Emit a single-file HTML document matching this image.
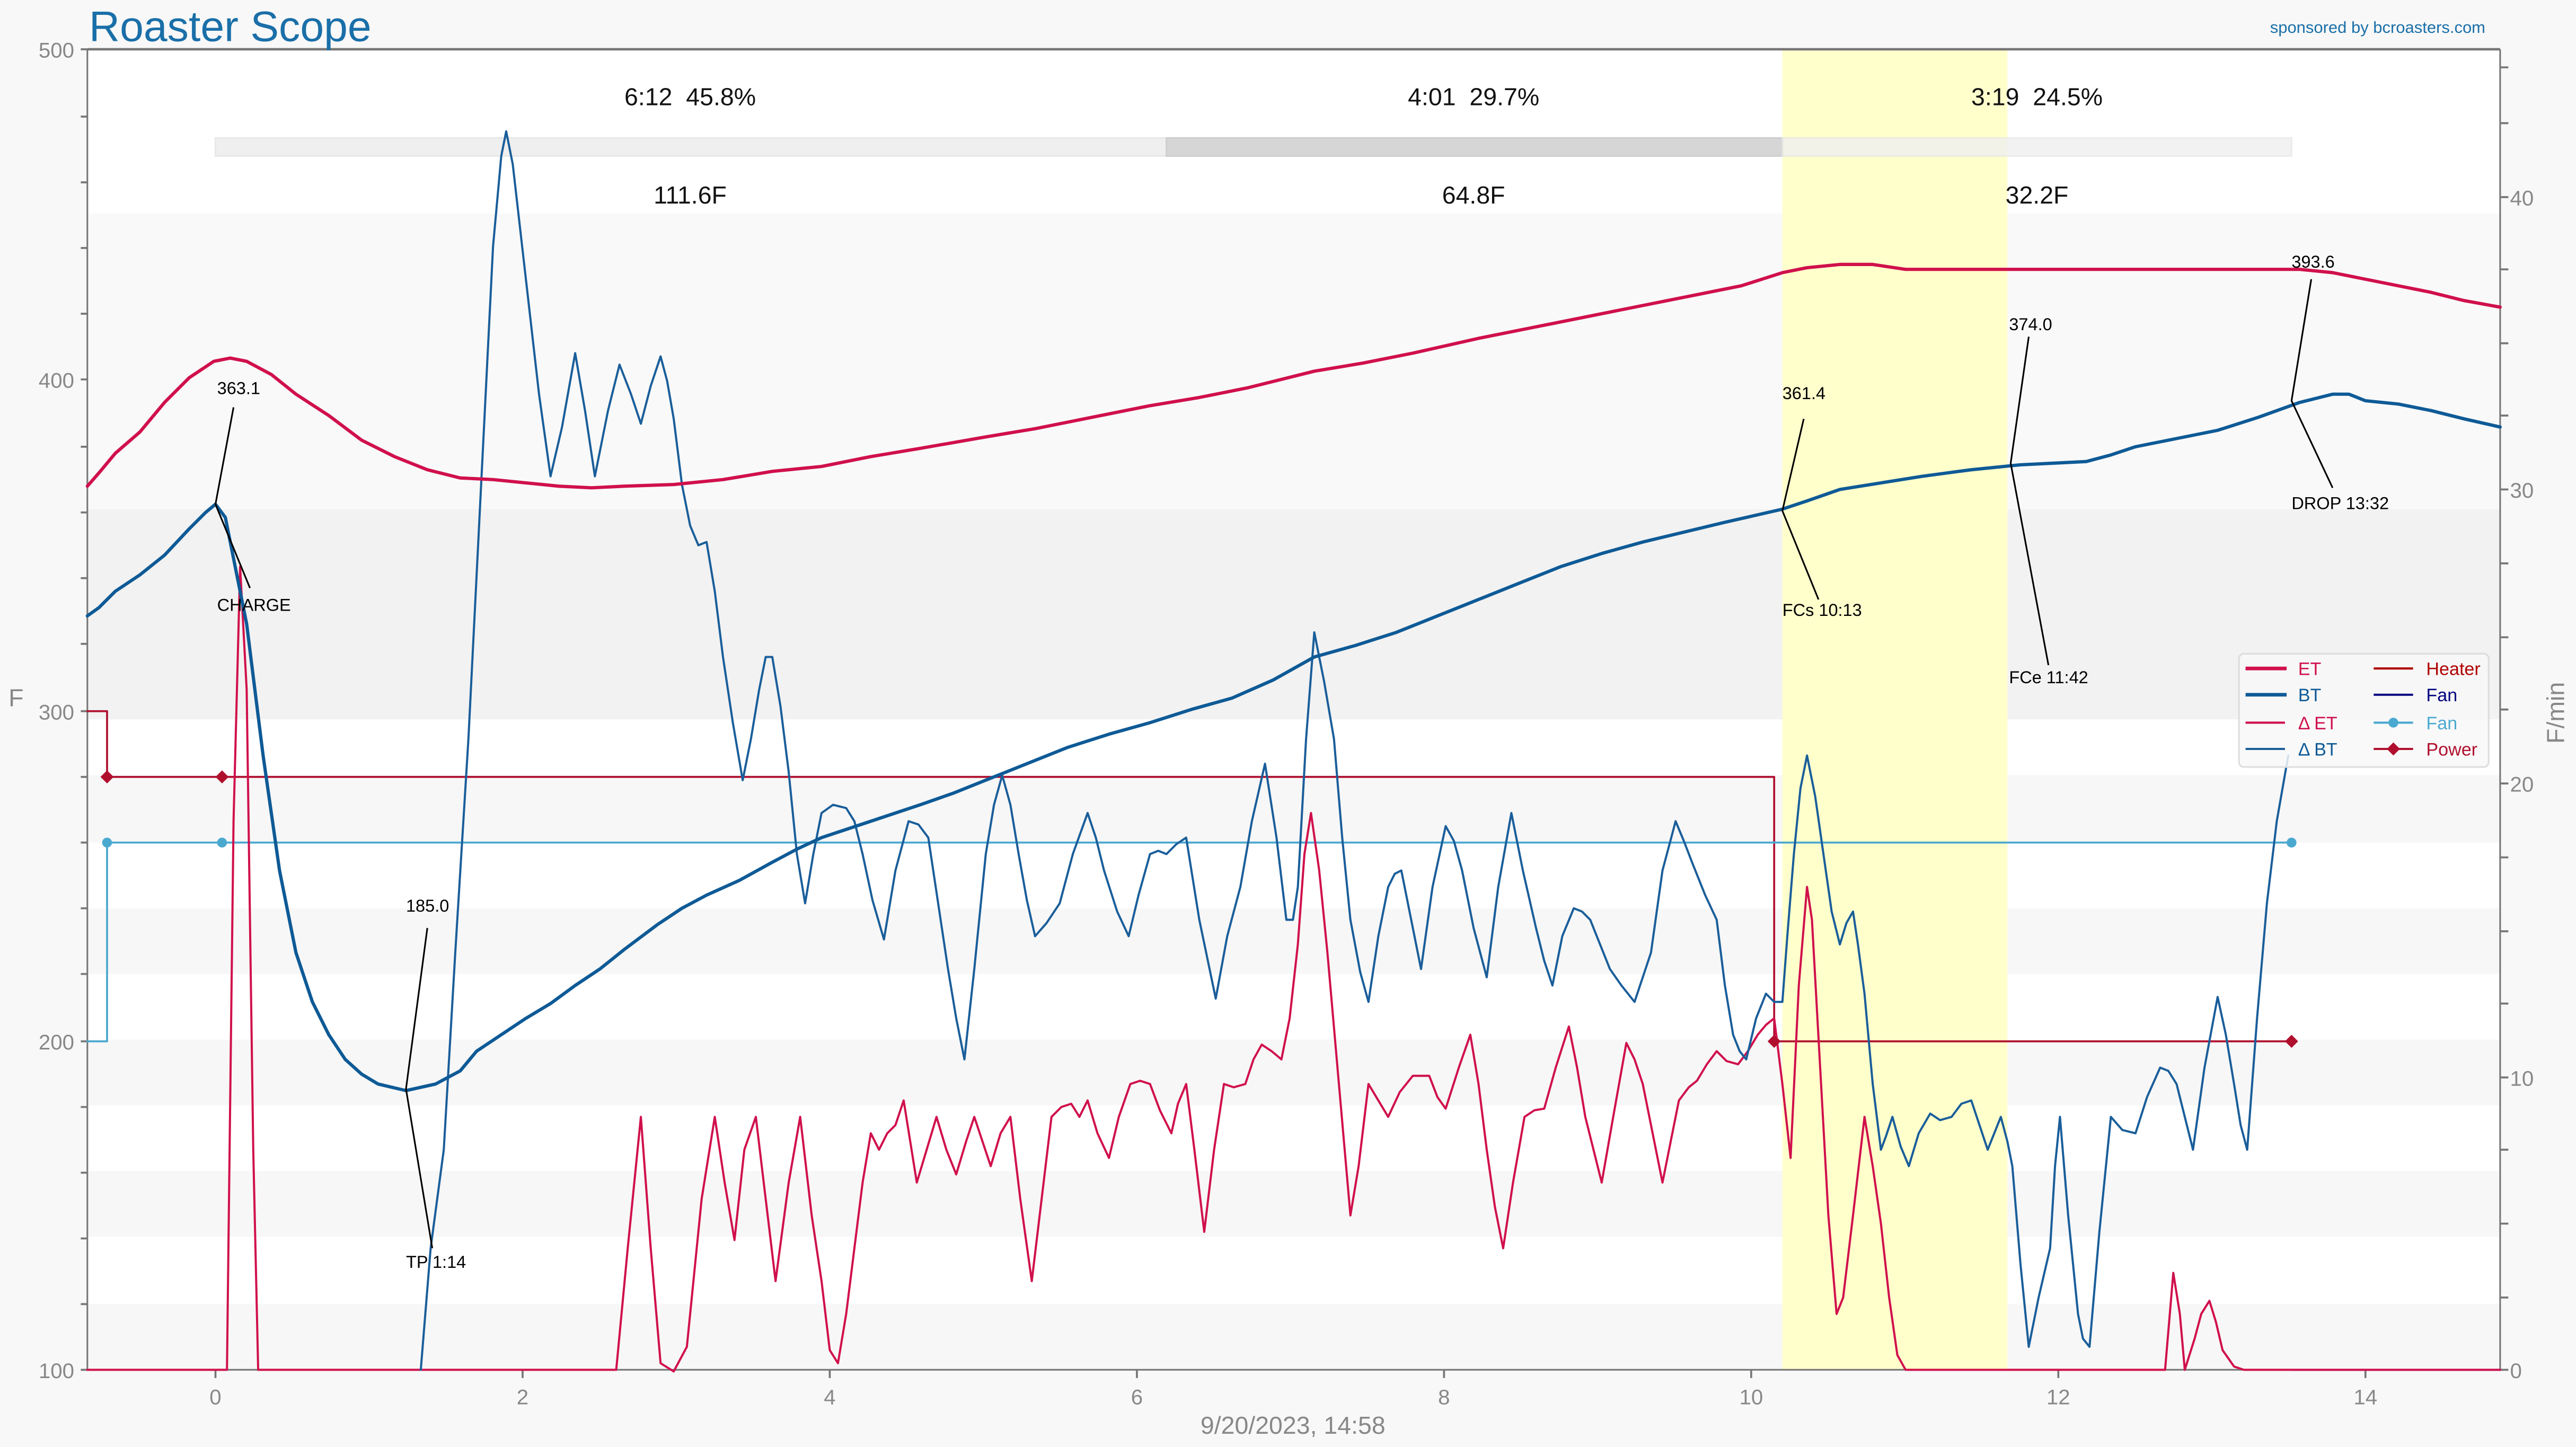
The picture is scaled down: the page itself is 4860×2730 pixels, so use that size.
<!DOCTYPE html>
<html><head><meta charset="utf-8"><style>
html,body{margin:0;padding:0;background:#f8f8f8}
svg{display:block}
text{font-family:"Liberation Sans",sans-serif;white-space:pre}
</style></head><body>
<svg width="4860" height="2730" viewBox="0 0 1568 881" xmlns="http://www.w3.org/2000/svg">
<rect x="0" y="0" width="1568" height="881" fill="#f8f8f8"/>
<rect x="53" y="30" width="1469" height="804" fill="#ffffff"/>
<rect x="53" y="130" width="1469" height="180" fill="#f9f9f9"/>
<rect x="53" y="310" width="1469" height="128" fill="#f2f2f2"/>
<g fill="#f7f7f7">
<rect x="53" y="472" width="1469" height="41"/>
<rect x="53" y="553" width="1469" height="40"/>
<rect x="53" y="633" width="1469" height="40"/>
<rect x="53" y="713" width="1469" height="40"/>
<rect x="53" y="794" width="1469" height="40"/>
</g>
<rect x="1085" y="30" width="137" height="804" fill="#ffffcc"/>
<rect x="131" y="84" width="579" height="11" fill="#efefef" stroke="#e8e8e8"/>
<rect x="710" y="84" width="375" height="11" fill="#d6d6d6" stroke="#cfcfcf"/>
<rect x="1085" y="84" width="310" height="11" fill="#efefef" stroke="#e8e8e8" opacity="0.8"/>
<g font-size="15" fill="#111" text-anchor="middle">
<text x="420" y="64" xml:space="preserve">6:12  45.8%</text>
<text x="897" y="64" xml:space="preserve">4:01  29.7%</text>
<text x="1240" y="64" xml:space="preserve">3:19  24.5%</text>
<text x="420" y="124">111.6F</text>
<text x="897" y="124">64.8F</text>
<text x="1240" y="124">32.2F</text>
</g>
<line x1="53" y1="30" x2="1522" y2="30" stroke="#777" stroke-width="1.5"/>
<line x1="53" y1="30" x2="53" y2="834" stroke="#777" stroke-width="1"/>
<line x1="1522" y1="30" x2="1522" y2="834" stroke="#777" stroke-width="1"/>
<line x1="53" y1="834" x2="1522" y2="834" stroke="#777" stroke-width="1"/>
<g stroke="#777" stroke-width="1.2">
<path d="M49 30h4M49 71h4M49 111h4M49 151h4M49 191h4M49 231h4M49 272h4M49 312h4M49 352h4M49 392h4M49 433h4M49 473h4M49 513h4M49 553h4M49 593h4M49 634h4M49 674h4M49 714h4M49 754h4M49 794h4M49 834h4"/>
<path d="M1522 120h5M1522 209h5M1522 298h5M1522 388h5M1522 477h5M1522 567h5M1522 656h5M1522 745h5M1522 834h5M1522 75h5M1522 164h5M1522 253h5M1522 343h5M1522 432h5M1522 522h5M1522 611h5M1522 700h5M1522 790h5M1522 41h5"/>
<path d="M131 834v5M318 834v5M505 834v5M692 834v5M879 834v5M1066 834v5M1253 834v5M1440 834v5"/>
</g>
<g font-size="13" fill="#888" text-anchor="end">
<text x="45" y="35">500</text><text x="45" y="236">400</text><text x="45" y="438">300</text><text x="45" y="639">200</text><text x="45" y="839">100</text>
</g>
<g font-size="13" fill="#888">
<text x="1528" y="125">40</text><text x="1528" y="303">30</text><text x="1528" y="482">20</text><text x="1528" y="661">10</text><text x="1528" y="839">0</text>
</g>
<g font-size="13" fill="#888" text-anchor="middle">
<text x="131" y="855">0</text><text x="318" y="855">2</text><text x="505" y="855">4</text><text x="692" y="855">6</text><text x="879" y="855">8</text><text x="1066" y="855">10</text><text x="1253" y="855">12</text><text x="1440" y="855">14</text>
<text x="787" y="873" font-size="15">9/20/2023, 14:58</text>
</g>
<text x="5" y="430" font-size="15" fill="#888">F</text>
<text x="1561" y="434" font-size="15" fill="#888" text-anchor="middle" transform="rotate(-90 1561 434)">F/min</text>
<text x="54" y="25" font-size="26" fill="#1a6fa8">Roaster Scope</text>
<text x="1513" y="20" font-size="10" fill="#1a6fa8" text-anchor="end">sponsored by bcroasters.com</text>

<g fill="none" stroke-linejoin="round" stroke-linecap="round">
<polyline stroke="#b0102e" stroke-width="1.2" points="53,433 65,433 65,473 1080,473 1080,634 1395,634"/>
<polyline stroke="#4ba9d0" stroke-width="1.2" points="53,634 65,634 65,513 1395,513"/>
<polyline stroke="#000080" stroke-width="1.2" points="1395,834 1522,834"/>
<polyline stroke="#d0104c" stroke-width="1.3" points="53,834 138,834 142,500 146,345 150,420 154,700 157,834 375,834 382,760 390,680 396,760 402,830 410,835 418,820 427,730 435,680 441,720 447,755 453,700 460,680 466,730 472,780 480,720 487,680 494,740 500,780 505,822 510,830 515,800 520,760 525,720 530,690 535,700 540,690 545,685 550,670 554,695 558,720 564,700 570,680 576,700 582,715 588,695 593,680 598,695 603,710 609,690 615,680 621,730 628,780 634,730 640,680 646,674 652,672 657,680 662,670 668,690 675,705 681,680 688,660 694,658 700,660 706,676 713,690 717,672 722,660 727,700 733,750 739,700 745,660 751,662 758,660 763,645 768,636 774,640 780,645 785,620 790,575 794,520 798,495 803,530 808,580 815,660 822,740 827,710 833,660 839,670 845,680 852,665 860,655 865,655 870,655 875,668 880,675 888,650 895,630 900,660 905,700 910,735 915,760 921,720 928,680 934,676 940,675 947,650 955,625 960,650 965,680 970,700 975,720 982,680 990,635 995,645 1000,660 1006,690 1012,720 1017,695 1022,670 1028,662 1033,658 1039,648 1045,640 1051,646 1058,648 1064,640 1070,630 1075,624 1080,620 1085,660 1090,705 1095,600 1100,540 1103,560 1108,650 1113,740 1118,800 1122,790 1128,740 1135,680 1140,710 1145,745 1150,790 1155,825 1160,834 1318,834 1323,775 1327,800 1330,834 1336,815 1340,800 1345,792 1349,805 1353,822 1360,832 1366,834 1522,834"/>
<polyline stroke="#1a5e9a" stroke-width="1.3" points="256,834 262,760 270,700 277,580 285,450 293,290 300,150 305,95 308,80 312,100 320,170 328,240 335,290 342,260 350,215 356,250 362,290 370,250 377,222 384,240 390,258 396,235 402,217 406,232 410,255 415,295 420,320 425,332 430,330 435,360 440,400 446,440 452,475 457,450 462,420 466,400 470,400 475,430 480,470 485,520 490,550 495,520 500,495 507,490 515,492 520,500 525,520 531,548 538,572 545,530 553,500 559,502 565,510 571,550 577,590 582,620 587,645 593,590 600,520 605,490 610,472 615,490 620,520 625,548 630,570 637,562 645,550 653,520 662,495 667,510 672,530 680,555 687,570 693,545 700,520 705,518 710,520 716,514 722,510 730,560 740,608 747,570 755,540 762,500 770,465 777,510 783,560 787,560 790,540 795,450 800,385 806,415 812,450 817,510 822,560 828,592 833,610 839,570 845,540 849,532 853,530 859,560 865,590 872,540 880,503 885,512 890,530 897,565 905,595 912,540 920,495 927,530 935,565 940,585 945,600 951,570 958,553 963,555 968,560 974,575 980,590 987,600 995,610 1000,595 1005,580 1012,530 1020,500 1025,512 1030,525 1038,545 1045,560 1050,600 1055,630 1059,640 1063,645 1069,620 1075,605 1080,610 1085,610 1088,570 1092,520 1096,480 1100,460 1105,485 1110,520 1115,555 1120,575 1124,562 1128,555 1131,575 1135,605 1140,660 1145,700 1148,692 1152,680 1157,698 1162,710 1168,690 1175,678 1181,682 1188,680 1194,672 1200,670 1205,685 1210,700 1214,690 1218,680 1222,695 1225,710 1230,770 1235,820 1241,790 1248,760 1251,710 1254,680 1259,740 1265,800 1268,815 1272,820 1278,750 1285,680 1292,688 1300,690 1307,668 1315,650 1320,652 1325,660 1330,680 1335,700 1342,650 1350,607 1355,630 1360,660 1364,685 1368,700 1374,620 1380,550 1386,500 1393,460"/>
<polyline stroke="#d0104c" stroke-width="2" points="53,296 60,288 70,276 85,263 100,245 115,230 130,220 140,218 150,220 165,228 180,240 200,253 220,268 240,278 260,286 280,291 300,292 320,294 340,296 360,297 380,296 410,295 440,292 470,287 500,284 530,278 560,273 600,266 630,261 660,255 700,247 730,242 760,236 800,226 830,221 860,215 900,206 930,200 960,194 1000,186 1030,180 1060,174 1085,166 1100,163 1120,161 1140,161 1160,164 1200,164 1300,164 1400,164 1420,166 1450,172 1480,178 1500,183 1522,187"/>
<polyline stroke="#0e5a96" stroke-width="2" points="53,375 60,370 70,360 85,350 100,338 115,322 125,312 131,307 137,315 143,345 150,380 160,460 170,530 180,580 190,610 200,630 210,645 220,654 230,660 247,664 265,660 280,652 290,640 305,630 320,620 335,611 350,600 365,590 380,578 400,563 415,553 430,545 450,536 470,525 485,517 500,510 530,500 560,490 580,483 600,475 625,465 650,455 675,447 700,440 725,432 750,425 775,414 800,400 825,393 850,385 875,375 900,365 925,355 950,345 975,337 1000,330 1025,324 1050,318 1085,310 1100,305 1120,298 1145,294 1170,290 1200,286 1230,283 1250,282 1270,281 1285,277 1300,272 1325,267 1350,262 1375,254 1400,245 1420,240 1430,240 1440,244 1460,246 1480,250 1500,255 1522,260"/>
</g>
<g fill="#4ba9d0"><circle cx="65" cy="513" r="3"/><circle cx="135" cy="513" r="3"/><circle cx="1395" cy="513" r="3"/></g>
<g fill="#b0102e"><path d="M65 469l4 4-4 4-4-4z"/><path d="M135 469l4 4-4 4-4-4z"/><path d="M1080 630l4 4-4 4-4-4z"/><path d="M1395 630l4 4-4 4-4-4z"/></g>
<g stroke="#000" stroke-width="1" fill="none">
<polyline points="142,248 131,307 152,358"/>
<polyline points="260,565 247,663 263,760"/>
<polyline points="1098,255 1085,311 1107,365"/>
<polyline points="1235,205 1224,282 1247,405"/>
<polyline points="1407,170 1395,244 1420,297"/>
</g>
<g font-size="10.5" fill="#000">
<text x="132" y="240">363.1</text><text x="132" y="372">CHARGE</text>
<text x="247" y="555">185.0</text><text x="247" y="772">TP 1:14</text>
<text x="1085" y="243">361.4</text><text x="1085" y="375">FCs 10:13</text>
<text x="1223" y="201">374.0</text><text x="1223" y="416">FCe 11:42</text>
<text x="1395" y="163">393.6</text><text x="1395" y="310">DROP 13:32</text>
</g>
<rect x="1363" y="398" width="152" height="69" rx="3" fill="#f8f8f8" fill-opacity="0.85" stroke="#ddd"/>
<g>
<line x1="1367" y1="407" x2="1392" y2="407" stroke="#d0104c" stroke-width="2.2"/>
<line x1="1367" y1="423" x2="1392" y2="423" stroke="#0e5a96" stroke-width="2.2"/>
<line x1="1367" y1="440" x2="1391" y2="440" stroke="#d0104c" stroke-width="1.3"/>
<line x1="1367" y1="456" x2="1391" y2="456" stroke="#1a5e9a" stroke-width="1.3"/>
<line x1="1445" y1="407" x2="1469" y2="407" stroke="#b00000" stroke-width="1.3"/>
<line x1="1445" y1="423" x2="1469" y2="423" stroke="#000080" stroke-width="1.3"/>
<line x1="1445" y1="440" x2="1469" y2="440" stroke="#4ba9d0" stroke-width="1.3"/>
<line x1="1445" y1="456" x2="1469" y2="456" stroke="#b0102e" stroke-width="1.3"/>
</g>
<circle cx="1457" cy="440" r="3" fill="#4ba9d0"/>
<path d="M1457 452l4 4-4 4-4-4z" fill="#b0102e"/>
<g font-size="11">
<text x="1399" y="411" fill="#d0104c">ET</text>
<text x="1399" y="427" fill="#0e5a96">BT</text>
<text x="1399" y="444" fill="#d0104c">Δ ET</text>
<text x="1399" y="460" fill="#0e5a96">Δ BT</text>
<text x="1477" y="411" fill="#b00000">Heater</text>
<text x="1477" y="427" fill="#000080">Fan</text>
<text x="1477" y="444" fill="#4ba9d0">Fan</text>
<text x="1477" y="460" fill="#b0102e">Power</text>
</g>
</svg>
</body></html>
